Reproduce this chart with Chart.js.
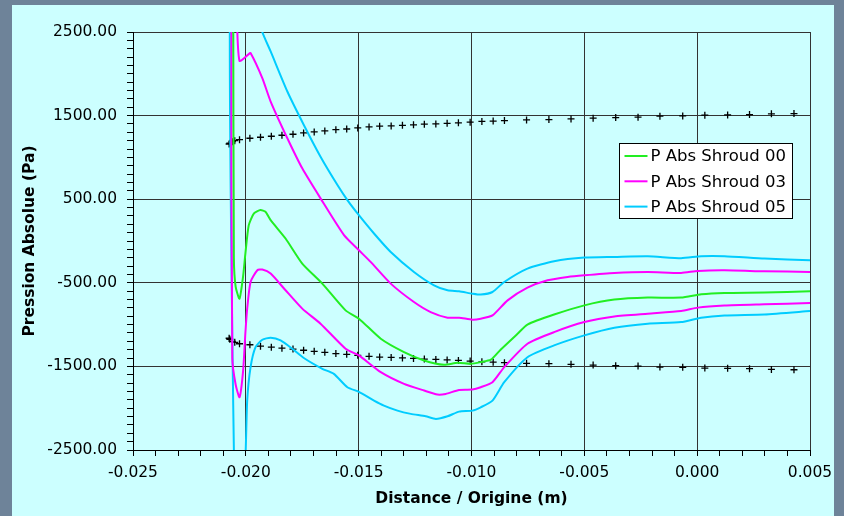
<!DOCTYPE html>
<html>
<head>
<meta charset="utf-8">
<title>Pression Absolue Shroud</title>
<script src="https://cdn.jsdelivr.net/npm/chart.js@4.4.1/dist/chart.umd.min.js"></script>
<style>
  html, body { margin: 0; padding: 0; background: #6e8399; overflow: hidden; }
  #panel { position: absolute; left: 12px; top: 5px; width: 822px; height: 511px; background: #ccffff; }
  #chart { position: absolute; left: 0; top: 0; }
</style>
</head>
<body>
<div id="panel"></div>
<canvas id="chart" width="844" height="516"></canvas>
<script>
// series labels and colours
const seriesLabels = ["P Abs Shroud 00", "P Abs Shroud 03", "P Abs Shroud 05"];
const seriesColors = ["#22ee22", "#ff00ff", "#00ccff"];

// P Abs Shroud 00 (distance in m, pressure in Pa)
const shroud00X = [-0.02056, -0.02053, -0.02045, -0.02028, -0.02012, -0.02002, -0.01987, -0.01964, -0.01935, -0.01913,
    -0.01890, -0.01824, -0.01750, -0.01661, -0.01558, -0.01499, -0.01402, -0.01299, -0.01210, -0.01122,
    -0.01062, -0.01003, -0.00959, -0.00914, -0.00871, -0.00796, -0.00752, -0.00634, -0.00500, -0.00367,
    -0.00219, -0.00071, 0.00018, 0.00121, 0.00298, 0.00500];
const shroud00Y = [3200, -200, -550, -690, -420, -150, 190, 330, 370, 349,
    249, 30, -270, -510, -830, -929, -1169, -1329, -1429, -1481,
    -1457, -1469, -1449, -1420, -1300, -1110, -1000, -880, -770, -701,
    -677, -677, -638, -622, -617, -602];

// P Abs Shroud 03
const shroud03X = [0.00500, 0.00298, 0.00121, 0.00003, -0.00071, -0.00219, -0.00367, -0.00500, -0.00574, -0.00663,
    -0.00752, -0.00840, -0.00907, -0.00959, -0.00996, -0.01055, -0.01106, -0.01181, -0.01255, -0.01358,
    -0.01447, -0.01499, -0.01565, -0.01669, -0.01750, -0.01816, -0.01890, -0.01927, -0.01979, -0.01987,
    -0.02028, -0.02040, -0.02048, -0.02064, -0.02060, -0.02045, -0.02028, -0.02012, -0.02002, -0.01994,
    -0.01979, -0.01949, -0.01927, -0.01890, -0.01827, -0.01750, -0.01669, -0.01558, -0.01499, -0.01402,
    -0.01299, -0.01210, -0.01151, -0.01114, -0.01055, -0.00996, -0.00959, -0.00907, -0.00855, -0.00752,
    -0.00634, -0.00500, -0.00367, -0.00219, -0.00071, 0.00003, 0.00121, 0.00298, 0.00500];
const shroud03Y = [-370, -362, -350, -358, -382, -370, -382, -410, -430, -470,
    -558, -710, -890, -929, -941, -917, -917, -850, -730, -510,
    -250, -110, 70, 510, 869, 1229, 1668, 1948, 2248, 2236,
    2155, 2700, 3600, 3000, -1400, -1720, -1869, -1550, -1100, -808,
    -490, -350, -342, -390, -580, -809, -989, -1289, -1369, -1569,
    -1709, -1789, -1837, -1829, -1781, -1777, -1749, -1689, -1509, -1229,
    -1090, -970, -902, -869, -838, -797, -773, -758, -742];

// P Abs Shroud 05
const shroud05X = [0.00500, 0.00298, 0.00121, 0.00018, -0.00071, -0.00219, -0.00367, -0.00500, -0.00634, -0.00752,
    -0.00855, -0.00907, -0.00959, -0.00996, -0.01055, -0.01106, -0.01166, -0.01255, -0.01358, -0.01432,
    -0.01499, -0.01550, -0.01594, -0.01669, -0.01743, -0.01816, -0.01890, -0.01927, -0.01970, -0.02020,
    -0.02070, -0.02050, -0.02030, -0.02002, -0.01994, -0.01979, -0.01957, -0.01927, -0.01890, -0.01846,
    -0.01794, -0.01743, -0.01661, -0.01610, -0.01550, -0.01499, -0.01432, -0.01388, -0.01328, -0.01269,
    -0.01203, -0.01158, -0.01106, -0.01055, -0.00996, -0.00959, -0.00907, -0.00855, -0.00752, -0.00634,
    -0.00500, -0.00367, -0.00219, -0.00071, 0.00017, 0.00121, 0.00298, 0.00500];
const shroud05Y = [-230, -210, -182, -182, -206, -182, -190, -198, -242, -330,
    -490, -610, -641, -630, -602, -590, -530, -370, -131, 90,
    309, 489, 669, 1008, 1388, 1788, 2267, 2500, 2950, 3500,
    3000, -3000, -3600, -2600, -1909, -1509, -1270, -1181, -1157, -1189,
    -1289, -1400, -1529, -1589, -1749, -1805, -1909, -1969, -2029, -2068,
    -2097, -2128, -2097, -2041, -2029, -1989, -1909, -1689, -1390, -1249,
    -1129, -1037, -989, -970, -917, -890, -878, -838];

// black "+" reference points (upper and lower)
const crossX = [-0.02074, -0.02071, -0.02060, -0.02049, -0.02028, -0.01982, -0.01935, -0.01887, -0.01840, -0.01791,
    -0.01744, -0.01697, -0.01650, -0.01601, -0.01553, -0.01504, -0.01454, -0.01407, -0.01356, -0.01306,
    -0.01257, -0.01209, -0.01158, -0.01108, -0.01058, -0.01006, -0.00954, -0.00904, -0.00854, -0.00756,
    -0.00657, -0.00559, -0.00461, -0.00361, -0.00262, -0.00165, -0.00064, 0.00034, 0.00135, 0.00232,
    0.00329, 0.00429];
const crossUpperY = [1160, 1169, 1188, 1200, 1212, 1229, 1241, 1253, 1265, 1277,
    1293, 1305, 1317, 1332, 1340, 1352, 1364, 1373, 1377, 1384,
    1390, 1397, 1401, 1408, 1413, 1421, 1430, 1435, 1440, 1448,
    1452, 1460, 1469, 1476, 1481, 1493, 1496, 1505, 1508, 1512,
    1521, 1524];
const crossLowerY = [-1163, -1175, -1201, -1212, -1229, -1241, -1258, -1270, -1282, -1293,
    -1307, -1320, -1332, -1347, -1355, -1367, -1379, -1388, -1393, -1399,
    -1405, -1412, -1416, -1423, -1428, -1436, -1445, -1450, -1455, -1463,
    -1467, -1475, -1484, -1491, -1496, -1508, -1511, -1520, -1523, -1527,
    -1536, -1540];

// axis settings
const xMin = -0.025, xMax = 0.005, xMinorStep = 0.001;
const yMin = -2500, yMax = 2500, yMinorStep = 100;

const toPoints = (xs, ys) => xs.map((x, i) => ({ x: x, y: ys[i] }));

const FONT = "'DejaVu Sans', 'Liberation Sans', sans-serif";
Chart.defaults.font.family = FONT;
Chart.defaults.color = "#000";

function curve(i, xs, ys) {
    return {
        label: seriesLabels[i],
        data: toPoints(xs, ys),
        showLine: true,
        borderColor: seriesColors[i],
        backgroundColor: seriesColors[i],
        borderWidth: 2,
        pointRadius: 0,
        pointHoverRadius: 0,
        tension: 0.2
    };
}

function crosses(label, ys) {
    return {
        label: label,
        data: toPoints(crossX, ys),
        showLine: false,
        pointStyle: "cross",
        pointRadius: 3.5,
        borderColor: "#000",
        backgroundColor: "#000",
        borderWidth: 1.3
    };
}

// legend drawn inside the plot, like the original
const legendBox = {
    id: "legendBox",
    afterDraw(chart) {
        const ctx = chart.ctx;
        const x = 619.5, y = 143.5, w = 173, h = 75;
        ctx.save();
        ctx.fillStyle = "#fff";
        ctx.fillRect(x, y, w, h);
        ctx.strokeStyle = "#000";
        ctx.lineWidth = 1;
        ctx.strokeRect(x, y, w, h);
        ctx.font = "16.5px " + FONT;
        ctx.textBaseline = "middle";
        ctx.textAlign = "left";
        seriesLabels.forEach((label, i) => {
            const ly = y + 12.5 + i * 25.3;
            ctx.strokeStyle = seriesColors[i];
            ctx.lineWidth = 2;
            ctx.beginPath();
            ctx.moveTo(x + 5, ly);
            ctx.lineTo(x + 28, ly);
            ctx.stroke();
            ctx.fillStyle = "#000";
            ctx.fillText(label, x + 31, ly + 1);
        });
        ctx.restore();
    }
};

const isMajorX = v => Math.abs(Math.round(v * 1000)) % 5 === 0;
const isMajorY = v => Math.abs(Math.round(v) + 2500) % 1000 === 0;

new Chart(document.getElementById("chart"), {
    type: "scatter",
    data: {
        datasets: [
            curve(0, shroud00X, shroud00Y),
            curve(1, shroud03X, shroud03Y),
            curve(2, shroud05X, shroud05Y),
            crosses("upper", crossUpperY),
            crosses("lower", crossLowerY)
        ]
    },
    options: {
        responsive: false,
        animation: false,
        events: [],
        layout: { padding: { left: 0, top: 32, right: 34, bottom: 0 } },
        plugins: {
            legend: { display: false },
            tooltip: { enabled: false }
        },
        scales: {
            x: {
                type: "linear",
                min: xMin,
                max: xMax,
                afterFit: s => { s.height = 66; },
                border: { color: "#000", width: 1 },
                grid: {
                    color: c => (c.tick && isMajorX(c.tick.value)) ? "#333" : "rgba(0,0,0,0)",
                    tickColor: "#000",
                    tickLength: 6,
                    lineWidth: 1
                },
                ticks: {
                    stepSize: xMinorStep,
                    autoSkip: false,
                    maxRotation: 0,
                    padding: 8,
                    font: { size: 15.5 },
                    callback: v => isMajorX(v) ? v.toFixed(3) : ""
                },
                title: {
                    display: true,
                    text: "Distance / Origine (m)",
                    font: { size: 15.5, weight: "bold" },
                    padding: { top: 0, bottom: 8 }
                }
            },
            y: {
                type: "linear",
                min: yMin,
                max: yMax,
                afterFit: s => { s.width = 133; },
                border: { color: "#000", width: 1 },
                grid: {
                    color: c => (c.tick && isMajorY(c.tick.value)) ? "#333" : "rgba(0,0,0,0)",
                    tickColor: "#000",
                    tickLength: 6,
                    lineWidth: 1
                },
                ticks: {
                    stepSize: yMinorStep,
                    autoSkip: false,
                    padding: 10,
                    font: { size: 15.5 },
                    callback: v => isMajorY(v) ? v.toFixed(2) : ""
                },
                title: {
                    display: true,
                    text: "Pression Absolue (Pa)",
                    font: { size: 15.5, weight: "bold" },
                    padding: { top: 21, bottom: 0 }
                }
            }
        }
    },
    plugins: [legendBox]
});
</script>
</body>
</html>
